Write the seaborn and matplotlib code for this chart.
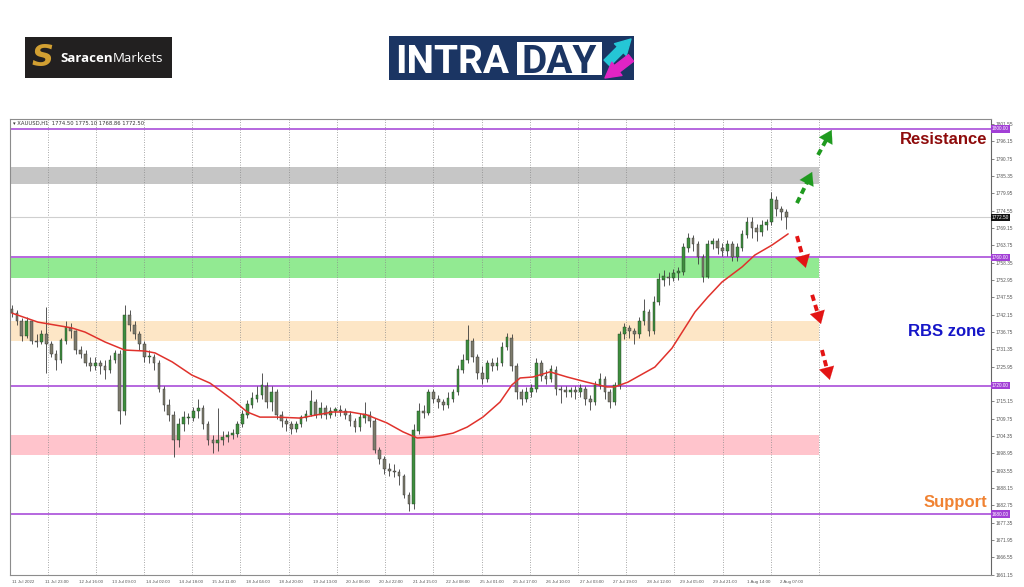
import numpy as np
import pandas as pd
import matplotlib
matplotlib.use("Agg")
import matplotlib.pyplot as plt
import matplotlib.transforms as mtrans
from matplotlib.patches import Rectangle
import seaborn as sns

# ---------------- data ----------------
first_open = 1744.0
closes = [1742.6, 1740, 1735.5, 1740, 1734, 1733.5, 1736, 1733, 1730, 1728,
          1734, 1738, 1737, 1731, 1730, 1727, 1726, 1727, 1726, 1725,
          1728, 1730, 1712, 1742, 1739, 1736, 1733, 1729, 1729, 1727,
          1719, 1714, 1711, 1703, 1708, 1710, 1710, 1712, 1713, 1708,
          1703, 1702, 1703, 1704, 1704.5, 1705, 1708, 1711, 1714, 1716,
          1717, 1720, 1715, 1718, 1711, 1709, 1708, 1706.5, 1708, 1710,
          1711, 1715, 1711, 1713, 1711, 1712, 1712.5, 1712, 1711, 1709,
          1707, 1710, 1711, 1709, 1700, 1697, 1694, 1693.5, 1693, 1692,
          1686, 1683, 1706, 1712, 1711.5, 1718, 1716, 1715, 1714, 1716,
          1718, 1725, 1728, 1734, 1729, 1724, 1722, 1727, 1726, 1727,
          1732, 1735, 1726, 1718, 1716, 1718, 1719, 1727, 1723, 1722,
          1725, 1719, 1718.5, 1718, 1718.5, 1718, 1719, 1716, 1715, 1720,
          1722, 1718, 1715, 1720, 1736, 1738, 1737, 1736, 1740, 1743,
          1737, 1746, 1753, 1754, 1753.5, 1755, 1755.5, 1763, 1766, 1764,
          1760, 1754, 1764, 1765, 1763, 1762, 1764, 1760, 1763, 1767,
          1771, 1769, 1768, 1770, 1771, 1778, 1775, 1774, 1772.5]
highs = [1745, 1743.5, 1741, 1741.5, 1740.5, 1736, 1737.5, 1744.5, 1734, 1731,
         1735, 1740, 1739.5, 1737.5, 1732.5, 1731, 1729, 1729, 1728, 1728,
         1729.5, 1731, 1731, 1745, 1743.5, 1740, 1737, 1734, 1731, 1730,
         1728, 1720, 1716, 1712, 1710, 1712, 1711.5, 1713.5, 1716, 1714,
         1709, 1704.5, 1713, 1706, 1706, 1706.5, 1709, 1712.5, 1715.5, 1718,
         1720, 1724, 1721, 1720, 1719, 1712, 1710, 1709, 1709, 1711,
         1712.5, 1718.7, 1716, 1715, 1714, 1713.5, 1713.5, 1714, 1713, 1712,
         1710, 1711.5, 1715, 1712, 1710, 1701, 1698, 1696, 1695.5, 1694,
         1692.5, 1687, 1708, 1714.5, 1714, 1719, 1719, 1717, 1716, 1718,
         1719, 1726.5, 1730, 1739, 1735, 1730, 1726, 1728, 1728.5, 1729,
         1733.5, 1736.5, 1736, 1727, 1719, 1719.5, 1720.5, 1728.5, 1728, 1725,
         1726.5, 1726, 1720, 1720, 1719.5, 1720, 1720.5, 1720, 1717, 1721.5,
         1724, 1723, 1719, 1721, 1737, 1739.5, 1739, 1738, 1741.5, 1747,
         1744, 1748, 1755, 1756, 1755.5, 1756.5, 1757, 1764.5, 1767.5, 1767,
         1765, 1761, 1765.5, 1766, 1766, 1764.5, 1765.5, 1765, 1764.5, 1768.5,
         1772.5, 1772.5, 1770.5, 1771.5, 1772, 1780.4, 1779, 1776, 1775.1]
lows = [1741.5, 1739, 1734, 1735, 1733, 1732, 1733, 1724, 1729, 1725,
        1727, 1733, 1735, 1730, 1728.5, 1726, 1724.5, 1725, 1723.5, 1722,
        1724, 1727, 1708, 1711, 1737, 1734.5, 1731, 1727.5, 1727, 1725,
        1718, 1712, 1709, 1697.8, 1701, 1706, 1708, 1709, 1710, 1706.5,
        1701.5, 1699, 1699.5, 1701.5, 1702.5, 1703.5, 1704, 1707, 1710, 1713,
        1715, 1716, 1713, 1712, 1709.5, 1707, 1706, 1705, 1705.5, 1707,
        1709, 1710.5, 1710, 1710, 1709.5, 1710, 1710.5, 1710.5, 1709.5, 1707.5,
        1705.5, 1706, 1708.5, 1707, 1699, 1695.5, 1692.5, 1692, 1691.5, 1689,
        1685, 1681, 1681.5, 1705, 1710, 1711, 1714.5, 1713, 1712.5, 1713,
        1715, 1717, 1724, 1727, 1727.5, 1722, 1720.5, 1721, 1724.5, 1725,
        1726, 1731, 1724.5, 1716, 1714, 1715, 1716.5, 1718, 1721.5, 1720.5,
        1721, 1717, 1714.5, 1716.5, 1716.5, 1716, 1716.5, 1714, 1712.5, 1714,
        1719, 1716, 1713, 1714, 1719, 1734.5, 1735, 1733, 1735, 1739,
        1735.5, 1736, 1745, 1751, 1751.5, 1752.5, 1753, 1754.5, 1761.5, 1762,
        1758, 1752.3, 1753.5, 1762.5, 1761, 1760.5, 1760.5, 1759, 1759, 1762,
        1766, 1766, 1765, 1766.5, 1768.5, 1770, 1773, 1771.5, 1768.9]

# moving average (red line), read at points along the line
ma_bar = [0, 5.3, 12.2, 14.9, 19, 23, 27.1, 29.2, 32.7, 36.7, 40.4, 42.4, 45.1, 48,
          50.6, 54.1, 58.8, 62.2, 65.5, 69, 72.4, 76.5, 79.8, 82.7, 85.9, 90, 92.9,
          96.1, 99.6, 102, 103.7, 106.3, 109.8, 113.3, 117.3, 121.4, 123, 125.7,
          131.2, 134.7, 139.4, 142, 144.9, 149, 151.6, 155.1, 158.4]
ma_val = [1742.6, 1739.8, 1738.0, 1736.7, 1733.6, 1731.1, 1730.8, 1730.2, 1727.4,
          1723.3, 1720.8, 1718.6, 1715.5, 1711.8, 1710.2, 1710.2, 1709.9, 1710.9,
          1711.8, 1711.8, 1710.9, 1708.4, 1705.6, 1703.7, 1704.0, 1705.2, 1707.1,
          1710.2, 1714.9, 1720.2, 1722.4, 1722.7, 1724.3, 1722.7, 1721.1, 1719.6,
          1719.6, 1721.1, 1725.8, 1731.7, 1743.0, 1747.6, 1752.3, 1757.0, 1760.7,
          1763.8, 1767.3]

x_labels = ["11 Jul 2022", "11 Jul 23:00", "12 Jul 16:00", "13 Jul 09:00", "14 Jul 02:00",
            "14 Jul 18:00", "15 Jul 11:00", "18 Jul 04:00", "18 Jul 20:00", "19 Jul 13:00",
            "20 Jul 06:00", "20 Jul 22:00", "21 Jul 15:00", "22 Jul 08:00", "25 Jul 01:00",
            "25 Jul 17:00", "26 Jul 10:00", "27 Jul 03:00", "27 Jul 19:00", "28 Jul 12:00",
            "29 Jul 05:00", "29 Jul 21:00", "1 Aug 14:00", "2 Aug 07:00"]
HOURS_PER_CANDLE = 2.347
HOURS_PER_LABEL = 16
GRID_FIRST_HOUR = 17
GRID_STEP_HOURS = 23.1
N_GRID = 17

# zones (low, high, colour)
zones = [(1782.9, 1788.2, "#c6c6c6"),
         (1753.6, 1759.7, "#92ea92"),
         (1733.9, 1740.3, "#fde6c6"),
         (1698.4, 1704.6, "#ffc4cc")]
levels = [1800.0, 1760.0, 1720.0, 1680.0]
current_price = 1772.50
y_ticks = [round(1661.15 + 5.4 * k, 2) for k in range(27)]
hidden_tick = 1720.55   # covered by the 1720.00 level box in the original
header = "\u25be XAUUSD,H1  1774.50 1775.10 1768.86 1772.50"

# dashed forecast arrows: (x0, y0, x1, y1, colour)
arrows = [(160.2, 1776.9, 163.3, 1786.6, "#1f9a1f"),
          (164.5, 1791.9, 167.3, 1799.7, "#1f9a1f"),
          (160.2, 1766.6, 162.0, 1756.7, "#e31414"),
          (163.3, 1748.3, 165.1, 1739.2, "#e31414"),
          (165.3, 1731.1, 166.9, 1721.8, "#e31414")]

# ---------------- style ----------------
sns.set_style("white")
plt.rcParams["font.family"] = ["DejaVu Sans"]
small_font = ["Liberation Sans", "DejaVu Sans"]

fig = plt.figure(figsize=(10.24, 5.87), dpi=100)
W, H = 1024, 587
ax = fig.add_axes([10 / W, 1 - 575 / H, 981 / W, (575 - 119) / H])

n = len(closes)
opens = [first_open] + closes[:-1]
df = pd.DataFrame({"bar": np.arange(n), "open": opens, "close": closes,
                   "high": highs, "low": lows})
up = df["close"] >= df["open"]
dn = ~up

# zones
grid_x = [(GRID_FIRST_HOUR + GRID_STEP_HOURS * k) / HOURS_PER_CANDLE for k in range(N_GRID)]
x_left = -0.41
for lo, hi, col in zones:
    ax.fill_between([x_left, grid_x[-1]], lo, hi, color=col, lw=0, zorder=1)

for gx in grid_x:
    ax.axvline(gx, color="#8a8a8a", lw=0.6, ls=(0, (1, 2)), zorder=1.5)

ax.axhline(current_price, color="#cfcfcf", lw=0.8, zorder=1.6)
for lv in levels:
    ax.axhline(lv, color="#a23fd6", lw=1.1, zorder=2)

# candles
ax.vlines(df["bar"], df["low"], df["high"], color="#3a3a3a", lw=0.6, zorder=3)
ax.bar(df["bar"][up], (df["close"] - df["open"])[up] + 0.15, bottom=df["open"][up],
       width=0.55, color="#3e8e3e", edgecolor="#263a26", lw=0.3, zorder=4)
ax.bar(df["bar"][dn], (df["open"] - df["close"])[dn], bottom=df["close"][dn],
       width=0.55, color="#7d7b6c", edgecolor="#2e2e2e", lw=0.3, zorder=4)

# moving average
sns.lineplot(x=ma_bar, y=ma_val, color="#e0322c", lw=1.1, ax=ax, zorder=5)

# arrows
for x0, y0, x1, y1, col in arrows:
    ax.plot([x0, x0 + (x1 - x0) * 0.72], [y0, y0 + (y1 - y0) * 0.72], color=col,
            lw=2.8, ls=(0, (1.6, 1.1)), solid_capstyle="butt", zorder=6)
    ax.annotate("", xy=(x1, y1), xytext=(x0 + (x1 - x0) * 0.6, y0 + (y1 - y0) * 0.6),
                arrowprops=dict(arrowstyle="-|>,head_length=0.9,head_width=0.55",
                                color=col, lw=0.1, shrinkA=0, shrinkB=0), zorder=6)

# axes
ax.set_xlim(x_left, 199.8)
ax.set_ylim(1661.0, 1803.1)
ax.yaxis.tick_right()
ax.set_yticks(y_ticks)
ax.set_yticklabels(["" if abs(v - hidden_tick) < 0.01 else f"{v:.2f}" for v in y_ticks],
                   family=small_font)
tick_pos = [k * HOURS_PER_LABEL / HOURS_PER_CANDLE for k in range(len(x_labels))]
ax.set_xticks(tick_pos)
ax.set_xticklabels(x_labels, ha="left", family=small_font)
ax.tick_params(axis="y", labelsize=3.4, length=2, width=0.5, colors="#555555", pad=1)
ax.tick_params(axis="x", labelsize=3.2, length=2, width=0.5, colors="#555555", pad=1.5)
ax.set_xlabel("")
ax.set_ylabel("")
for s in ax.spines.values():
    s.set_color("#8c8c8c")
    s.set_linewidth(0.8)
ax.spines["right"].set_color("#666666")

ax.text(0.003, 0.996, header, transform=ax.transAxes, fontsize=3.8, va="top",
        ha="left", color="#333333")

bt = mtrans.blended_transform_factory(ax.transAxes, ax.transData)
for lv in levels:
    ax.text(1.001, lv, f"{lv:.2f}", transform=bt, fontsize=3.4, color="white",
            ha="left", va="center", zorder=10, clip_on=False, family=small_font,
            bbox=dict(boxstyle="square,pad=0.25", fc="#a23fd6", ec="none"))
ax.text(1.001, current_price, f"{current_price:.2f}", transform=bt, fontsize=3.4,
        color="white", ha="left", va="center", zorder=10, clip_on=False, family=small_font,
        bbox=dict(boxstyle="square,pad=0.25", fc="#111111", ec="none"))

# ---------------- overlay (logos / labels) ----------------
ov = fig.add_axes([0, 0, 1, 1], zorder=20)
ov.set_xlim(0, W)
ov.set_ylim(H, 0)
ov.axis("off")
ov.patch.set_alpha(0)

lab = dict(fontweight="bold", family=["Liberation Sans", "DejaVu Sans"], ha="right", va="center")
ov.text(987, 139, "Resistance", fontsize=12, color="#8e0b0b", **lab)
ov.text(985, 331, "RBS zone", fontsize=12, color="#1616c8", **lab)
ov.text(987, 503, "Support", fontsize=12, color="#f08232", **lab)

# Saracen Markets logo
ov.add_patch(Rectangle((25, 37), 147, 41, fc="#222020", ec="none"))
ov.text(43, 58, "S", fontsize=22, fontweight="bold", fontstyle="italic", color="#d2a032",
        ha="center", va="center", family=["DejaVu Sans"])
t1 = ov.text(60, 62, "Saracen", fontsize=9.5, fontweight="bold", color="white",
             ha="left", va="baseline", family=["Open Sans", "DejaVu Sans"])
ov.annotate("Markets", xy=(1, 0), xycoords=t1, xytext=(0, 0), textcoords="offset points",
            fontsize=9.5, color="white", ha="left", va="bottom",
            family=["Open Sans", "DejaVu Sans"])

# INTRADAY logo
ov.add_patch(Rectangle((389, 36), 245, 44, fc="#1b3563", ec="none"))
ov.add_patch(Rectangle((517, 41.5), 85, 33.5, fc="white", ec="none"))
ov.text(395, 72.7, "INTRA", fontsize=28, fontweight="bold", color="white",
        ha="left", va="baseline", family=["Roboto", "DejaVu Sans"])
ov.text(559.5, 72.7, "DAY", fontsize=28, fontweight="bold", color="#1b3563",
        ha="center", va="baseline", family=["Roboto", "DejaVu Sans"])
ov.annotate("", xy=(631, 39), xytext=(607, 63),
            arrowprops=dict(arrowstyle="simple,head_length=0.9,head_width=1.0,tail_width=0.5",
                            color="#25c6d6", mutation_scale=12, shrinkA=0, shrinkB=0))
ov.annotate("", xy=(605, 78), xytext=(631, 58),
            arrowprops=dict(arrowstyle="simple,head_length=0.9,head_width=1.0,tail_width=0.5",
                            color="#e024c4", mutation_scale=12, shrinkA=0, shrinkB=0))

fig.savefig("out.png", dpi=100)
